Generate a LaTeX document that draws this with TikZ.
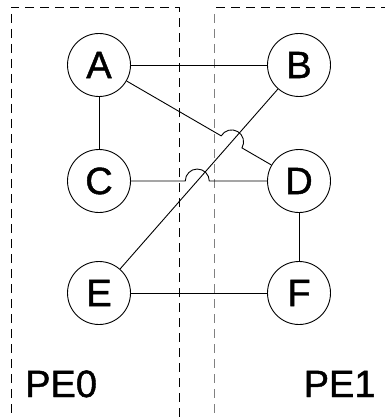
\documentclass[tikz,border=0pt]{standalone}
\usepackage{fontspec}
\setmainfont{Liberation Sans}
\newfontfamily\lblfont[FakeBold=1.2]{Liberation Sans}
\usetikzlibrary{calc}
\begin{document}
\begin{tikzpicture}[x=1pt,y=1pt,
  vtx/.style={draw,circle,minimum size=63pt,inner sep=0pt,line width=0.9pt,font=\lblfont\fontsize{38}{40}\selectfont},
  edge/.style={line width=0.9pt},
  part/.style={line width=0.9pt,dash pattern=on 9pt off 6pt},
  lbl/.style={inner sep=0pt,font=\lblfont\fontsize{38}{40}\selectfont}]
\useasboundingbox (0,0) rectangle (385,-417);
% partitions
\draw[part] (179,-417) -- (179,-7) -- (11,-7) -- (11,-417);
\draw[part] (216,-7) -- (385,-7);
\draw[part,gray] (214,-14) -- (214,-417);
% vertices
\node[vtx] (A) at (99,-65) {A};
\node[vtx] (B) at (299,-65) {B};
\node[vtx] (C) at (99,-181) {C};
\node[vtx] (D) at (299,-181) {D};
\node[vtx] (E) at (99,-293) {E};
\node[vtx] (F) at (299,-293) {F};
% crossings
\coordinate (X1) at (intersection of A--D and B--E);
\coordinate (X2) at (intersection of C--D and B--E);
\coordinate (h1a) at ($(X1)!12pt!(A)$);
\coordinate (h2a) at ($(X2)!12pt!(C)$);
% edges
\draw[edge] (A) -- (B);
\draw[edge] (A) -- (C);
\draw[edge] (D) -- (F);
\draw[edge] (E) -- (F);
\draw[edge] (B) -- (E);
\draw[edge] (A) -- (h1a) arc[start angle=149.9,end angle=-30.1,radius=12pt] -- (D);
\draw[edge] (C) -- (h2a) arc[start angle=180,end angle=0,radius=12pt] -- (D);
% labels
\node[lbl,anchor=base west] (pe0) at (25,-397) {PE0};
\node[lbl,anchor=base west] (pe1) at (303.5,-397) {PE1};
\end{tikzpicture}
\end{document}
